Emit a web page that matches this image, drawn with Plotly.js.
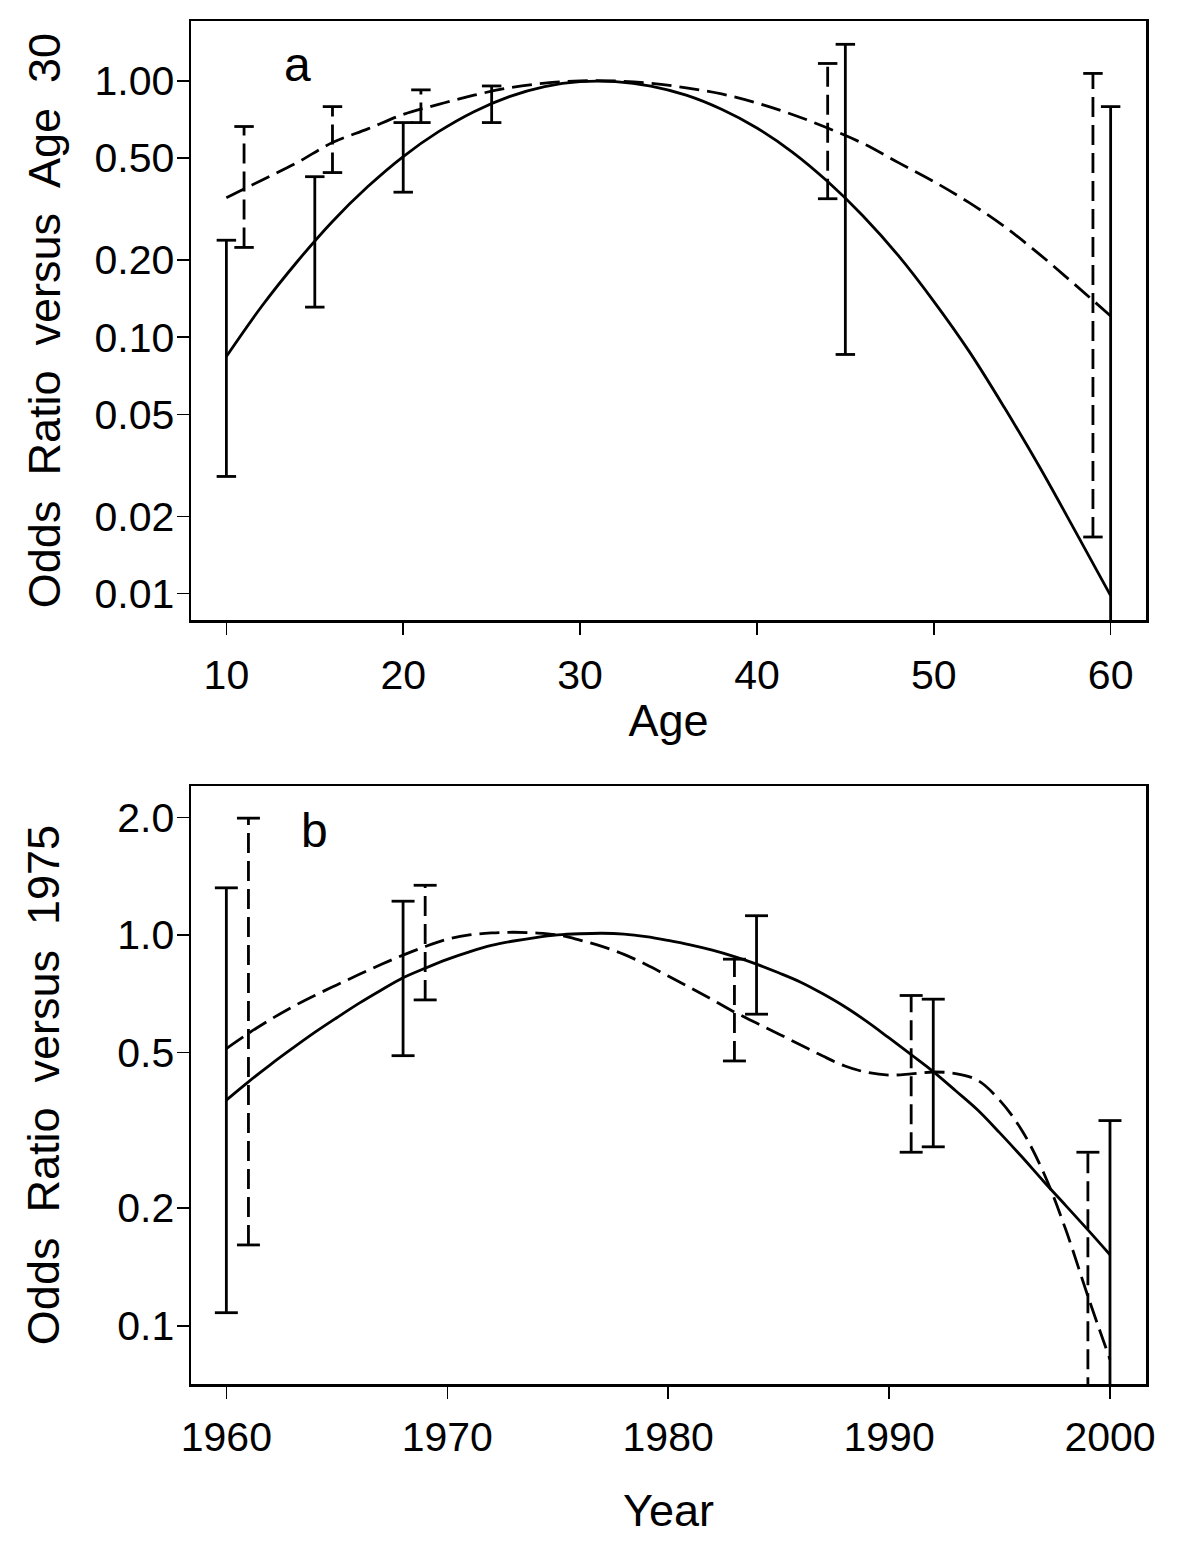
<!DOCTYPE html>
<html>
<head>
<meta charset="utf-8">
<script src="https://cdn.plot.ly/plotly-3.0.1.min.js"></script>
<style>html,body{margin:0;padding:0;background:#fff;}#chart{width:1200px;height:1560px;}</style>
</head>
<body>
<div id="chart"></div>
<script>
// ---- Panel a: odds ratio versus age 30 ----
const ageX = [10,12,14,16,18,20,22,24,26,28,30,32,34,36,38,40,42,44,46,48,50,52,54,56,58,60];
const ageSolid = [0.084,0.132,0.197,0.283,0.387,0.507,0.634,0.759,0.869,0.951,0.994,0.994,0.955,0.88,0.775,0.655,0.528,0.405,0.297,0.208,0.138,0.088,0.053,0.031,0.0175,0.0098];
const ageDashed = [0.35,0.41,0.48,0.575,0.65,0.74,0.81,0.88,0.94,0.98,1.0,1.0,0.98,0.94,0.89,0.82,0.74,0.655,0.57,0.48,0.405,0.335,0.27,0.21,0.16,0.121];
const ageSolidBarX = [10,15,20,25,45,60];
const ageSolidBarLo = [0.0286,0.131,0.368,0.688,0.0856,0.004];
const ageSolidBarHi = [0.239,0.423,0.688,0.956,1.39,0.794];
const ageDashBarX = [11,16,21,44,59];
const ageDashBarLo = [0.224,0.439,0.688,0.347,0.0166];
const ageDashBarHi = [0.664,0.794,0.923,1.17,1.07];
const ageTickVals = [0.01,0.02,0.05,0.1,0.2,0.5,1];
const ageTickText = ["0.01","0.02","0.05","0.10","0.20","0.50","1.00"];
const ageXTicks = [10,20,30,40,50,60];

// ---- Panel b: odds ratio versus 1975 ----
const yearX = [1960,1961,1962,1963,1964,1965,1966,1967,1968,1969,1970,1971,1972,1973,1974,1975,1976,1977,1978,1979,1980,1981,1982,1983,1984,1985,1986,1987,1988,1989,1990,1991,1992,1993,1994,1995,1996,1997,1998,1999,2000];
const yearSolid = [0.378,0.421,0.466,0.513,0.563,0.614,0.668,0.722,0.777,0.822,0.866,0.905,0.94,0.965,0.985,1.0,1.007,1.01,1.005,0.99,0.968,0.943,0.914,0.88,0.842,0.80,0.757,0.707,0.655,0.60,0.545,0.494,0.447,0.40,0.357,0.312,0.271,0.234,0.203,0.176,0.152];
const yearDashed = [0.512,0.56,0.608,0.655,0.70,0.745,0.792,0.84,0.888,0.934,0.975,1.0,1.012,1.016,1.012,1.0,0.97,0.935,0.892,0.84,0.785,0.733,0.683,0.635,0.595,0.558,0.523,0.49,0.462,0.445,0.438,0.441,0.446,0.442,0.425,0.378,0.317,0.246,0.176,0.119,0.082];
const yearSolidBarX = [1960,1968,1984,1992,2000];
const yearSolidBarLo = [0.108,0.491,0.627,0.287,0.04];
const yearSolidBarHi = [1.32,1.22,1.12,0.685,0.335];
const yearDashBarX = [1961,1969,1983,1991,1999];
const yearDashBarLo = [0.161,0.682,0.476,0.278,0.04];
const yearDashBarHi = [1.99,1.34,0.867,0.70,0.278];
const yearTickVals = [0.1,0.2,0.5,1,2];
const yearTickText = ["0.1","0.2","0.5","1.0","2.0"];
const yearXTicks = [1960,1970,1980,1990,2000];

const BLACK = '#000000';
const DASH = '20px,8px';
const LW = 2.8;

function vertSegs(xs, lo, hi) {
  const x = [], y = [];
  xs.forEach((v, i) => { x.push(v, v, null); y.push(lo[i], hi[i], null); });
  return {x, y};
}
function capSegs(xs, lo, hi, hw) {
  const x = [], y = [];
  xs.forEach((v, i) => {
    x.push(v - hw, v + hw, null); y.push(hi[i], hi[i], null);
    x.push(v - hw, v + hw, null); y.push(lo[i], lo[i], null);
  });
  return {x, y};
}
function lineTrace(d, xa, ya, dash) {
  return {type: 'scatter', mode: 'lines', x: d.x, y: d.y, xaxis: xa, yaxis: ya,
    line: {color: BLACK, width: LW, dash: dash || 'solid'}, hoverinfo: 'skip', showlegend: false, connectgaps: false};
}

const traces = [];
// panel a
traces.push({type:'scatter', mode:'lines', x: ageX, y: ageSolid, xaxis:'x', yaxis:'y', line:{color:BLACK,width:LW,shape:'spline'}, showlegend:false});
traces.push({type:'scatter', mode:'lines', x: ageX, y: ageDashed, xaxis:'x', yaxis:'y', line:{color:BLACK,width:LW,dash:DASH,shape:'spline'}, showlegend:false});
traces.push(lineTrace(vertSegs(ageSolidBarX, ageSolidBarLo, ageSolidBarHi), 'x', 'y'));
traces.push(lineTrace(capSegs(ageSolidBarX, ageSolidBarLo, ageSolidBarHi, 0.55), 'x', 'y'));
traces.push(lineTrace(vertSegs(ageDashBarX, ageDashBarLo, ageDashBarHi), 'x', 'y', DASH));
traces.push(lineTrace(capSegs(ageDashBarX, ageDashBarLo, ageDashBarHi, 0.55), 'x', 'y'));
// panel b
traces.push({type:'scatter', mode:'lines', x: yearX, y: yearSolid, xaxis:'x2', yaxis:'y2', line:{color:BLACK,width:LW,shape:'spline',smoothing:1}, showlegend:false});
traces.push({type:'scatter', mode:'lines', x: yearX, y: yearDashed, xaxis:'x2', yaxis:'y2', line:{color:BLACK,width:LW,dash:DASH,shape:'spline',smoothing:1}, showlegend:false});
traces.push(lineTrace(vertSegs(yearSolidBarX, yearSolidBarLo, yearSolidBarHi), 'x2', 'y2'));
traces.push(lineTrace(capSegs(yearSolidBarX, yearSolidBarLo, yearSolidBarHi, 0.52), 'x2', 'y2'));
traces.push(lineTrace(vertSegs(yearDashBarX, yearDashBarLo, yearDashBarHi), 'x2', 'y2', DASH));
traces.push(lineTrace(capSegs(yearDashBarX, yearDashBarLo, yearDashBarHi, 0.52), 'x2', 'y2'));

const FONT = 'Liberation Sans, Arial, sans-serif';
const tickFont = {family: FONT, size: 41, color: BLACK};
const titleFont = {family: FONT, size: 45, color: BLACK};
const sp = '\u00a0\u00a0';

const axisCommon = {
  showline: true, mirror: true, linecolor: BLACK, linewidth: 2.5,
  ticks: 'outside', ticklen: 12, tickwidth: 1.5, tickcolor: BLACK,
  showgrid: false, zeroline: false, tickfont: tickFont, automargin: false
};

const layout = {
  width: 1200, height: 1560,
  paper_bgcolor: '#ffffff', plot_bgcolor: '#ffffff',
  margin: {l: 191, r: 54, t: 21, b: 176},
  showlegend: false,
  font: {family: FONT, color: BLACK},
  xaxis: Object.assign({}, axisCommon, {
    domain: [0, 1], anchor: 'y', range: [8, 62],
    tickmode: 'array', tickvals: ageXTicks, ticktext: ageXTicks.map(String),
    ticklabelstandoff: 5,
    title: {text: 'Age', font: titleFont, standoff: 8}
  }),
  yaxis: Object.assign({}, axisCommon, {
    domain: [0.5605, 1], anchor: 'x', type: 'log', range: [-2.104, 0.234],
    tickmode: 'array', tickvals: ageTickVals, ticktext: ageTickText,
    ticklabelstandoff: -6,
    title: {text: 'Odds' + sp + 'Ratio' + sp + 'versus' + sp + 'Age' + sp + '30', font: titleFont, standoff: 20}
  }),
  xaxis2: Object.assign({}, axisCommon, {
    domain: [0, 1], anchor: 'y2', range: [1958.4, 2001.63],
    tickmode: 'array', tickvals: yearXTicks, ticktext: yearXTicks.map(String),
    ticklabelstandoff: 3,
    title: {text: 'Year', font: titleFont, standoff: 36}
  }),
  yaxis2: Object.assign({}, axisCommon, {
    domain: [0, 0.4387], anchor: 'x2', type: 'log', range: [-1.149, 0.381],
    tickmode: 'array', tickvals: yearTickVals, ticktext: yearTickText,
    ticklabelstandoff: -6,
    title: {text: 'Odds' + sp + 'Ratio' + sp + 'versus' + sp + '1975', font: titleFont, standoff: 44}
  }),
  annotations: [
    {text: 'a', xref: 'x domain', yref: 'y domain', x: 0.111, y: 0.928, showarrow: false,
     font: {family: FONT, size: 48, color: BLACK}, xanchor: 'center', yanchor: 'middle'},
    {text: 'b', xref: 'x2 domain', yref: 'y2 domain', x: 0.129, y: 0.926, showarrow: false,
     font: {family: FONT, size: 48, color: BLACK}, xanchor: 'center', yanchor: 'middle'}
  ]
};

Plotly.newPlot('chart', traces, layout, {staticPlot: true, displayModeBar: false});
</script>
</body>
</html>
